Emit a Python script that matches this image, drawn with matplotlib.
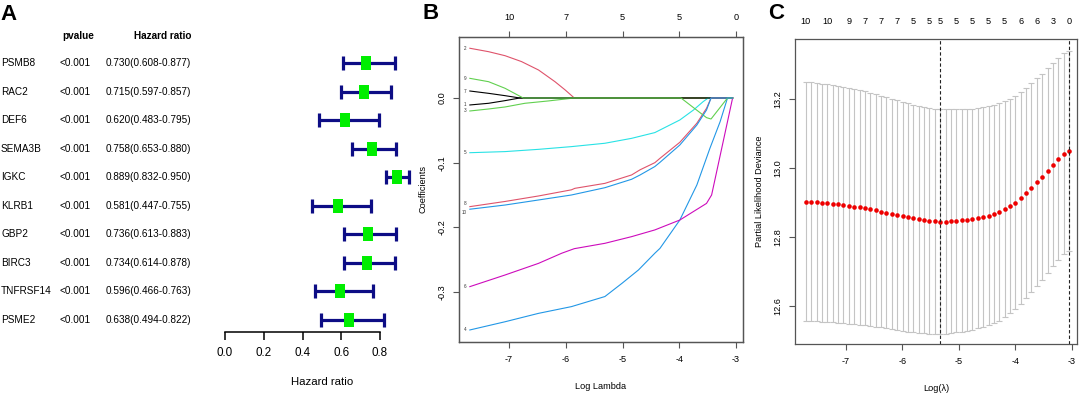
import numpy as np
import matplotlib
matplotlib.use("Agg")
import matplotlib.pyplot as plt

plt.rcParams['font.family'] = ['Liberation Sans', 'DejaVu Sans']

# ---- panel A: univariate cox forest data
genes = ["PSMB8", "RAC2", "DEF6", "SEMA3B", "IGKC", "KLRB1", "GBP2", "BIRC3", "TNFRSF14", "PSME2"]
pvals = ["<0.001"] * 10
hr = [0.730, 0.715, 0.620, 0.758, 0.889, 0.581, 0.736, 0.734, 0.596, 0.638]
hr_low = [0.608, 0.597, 0.483, 0.653, 0.832, 0.447, 0.613, 0.614, 0.466, 0.494]
hr_high = [0.877, 0.857, 0.795, 0.880, 0.950, 0.755, 0.883, 0.878, 0.763, 0.822]
hr_ticks = [0.0, 0.2, 0.4, 0.6, 0.8]

# ---- panel B: lasso coefficient paths (log lambda, coef)
path_lam = {
    1: [-7.69, -7.36, -7.07, -6.81, -3.06],
    2: [-7.69, -7.36, -7.07, -6.78, -6.48, -6.19, -6.01, -5.85, -3.06],
    3: [-7.69, -7.36, -7.07, -6.72, -6.31, -5.85, -3.06],
    4: [-7.69, -7.07, -6.48, -5.90, -5.31, -5.01, -4.72, -4.43, -4.34, -3.99, -3.69, -3.46, -3.28, -3.15, -3.06],
    5: [-7.69, -7.07, -6.48, -5.90, -5.31, -4.84, -4.43, -4.34, -3.99, -3.75, -3.58, -3.49, -3.06],
    6: [-7.69, -7.07, -6.48, -6.07, -5.85, -5.31, -4.84, -4.43, -3.99, -3.52, -3.43, -3.06],
    7: [-7.69, -7.36, -7.07, -6.81, -3.06],
    8: [-7.69, -7.07, -6.48, -5.90, -5.84, -5.31, -4.84, -4.69, -4.43, -4.34, -3.99, -3.69, -3.52, -3.44, -3.06],
    9: [-7.69, -7.36, -7.07, -6.75, -3.97, -3.52, -3.44, -3.15, -3.06],
    10: [-7.69, -7.07, -6.48, -5.90, -5.31, -4.84, -4.69, -4.43, -4.34, -3.99, -3.69, -3.52, -3.44, -3.06],
}
path_coef = {
    1: [-0.0108, -0.0082, -0.0041, 0, 0],
    2: [0.0769, 0.0716, 0.0654, 0.0563, 0.0433, 0.0252, 0.0124, 0, 0],
    3: [-0.0201, -0.017, -0.0139, -0.0082, -0.0046, 0, 0],
    4: [-0.3587, -0.346, -0.333, -0.3226, -0.307, -0.2866, -0.266, -0.240, -0.2325, -0.1887, -0.1345, -0.0778, -0.0366, 0, 0],
    5: [-0.0846, -0.0829, -0.0794, -0.0752, -0.070, -0.0624, -0.0535, -0.0495, -0.034, -0.0186, -0.0057, 0, 0],
    6: [-0.2917, -0.2737, -0.2557, -0.240, -0.233, -0.2247, -0.2144, -0.204, -0.1887, -0.163, -0.150, 0],
    7: [0.0108, 0.0072, 0.0036, 0, 0],
    8: [-0.168, -0.160, -0.1515, -0.142, -0.1397, -0.132, -0.119, -0.111, -0.100, -0.0933, -0.0685, -0.039, -0.016, 0, 0],
    9: [0.0304, 0.0252, 0.015, 0, 0, -0.0304, -0.0325, 0, 0],
    10: [-0.172, -0.1655, -0.1577, -0.150, -0.1387, -0.1257, -0.119, -0.106, -0.0995, -0.0727, -0.0418, -0.0186, 0, 0],
}
r_pal = ['#000000', '#DF536B', '#61D04F', '#2297E6', '#28E2E5', '#CD0BBC']
b_top_at = [-7, -6, -5, -4, -3]
b_top_lab = ["10", "7", "5", "5", "0"]

# ---- panel C: cross validation
cv_lam = np.linspace(-7.71, -3.05, 50)
cv_mean = [12.902, 12.902, 12.901, 12.900, 12.899, 12.897, 12.895, 12.893, 12.891, 12.888,
           12.886, 12.883, 12.880, 12.877, 12.874, 12.870, 12.867, 12.863, 12.860, 12.857,
           12.854, 12.851, 12.849, 12.847, 12.846, 12.845, 12.845, 12.846, 12.847, 12.848,
           12.850, 12.852, 12.855, 12.858, 12.862, 12.867, 12.873, 12.881, 12.890, 12.900,
           12.912, 12.927, 12.943, 12.959, 12.975, 12.992, 13.010, 13.027, 13.041, 13.049]
cv_se = [0.346, 0.346, 0.345, 0.345, 0.344, 0.344, 0.343, 0.343, 0.342, 0.341,
         0.340, 0.339, 0.338, 0.337, 0.336, 0.335, 0.334, 0.333, 0.332, 0.331,
         0.330, 0.329, 0.328, 0.327, 0.326, 0.325, 0.325, 0.324, 0.323, 0.322,
         0.321, 0.320, 0.319, 0.318, 0.317, 0.316, 0.315, 0.313, 0.311, 0.309,
         0.307, 0.305, 0.303, 0.301, 0.299, 0.297, 0.295, 0.293, 0.291, 0.290]
nz_idx = [0, 4, 8, 11, 14, 17, 20, 23, 25, 28, 31, 34, 37, 40, 43, 46, 49]
nz_lab = ["10", "10", "9", "7", "7", "7", "5", "5", "5", "5", "5", "5", "5", "6", "6", "3", "0"]
lam_min_i = 25
lam_1se_i = 49

W, H = 1080, 399
fig = plt.figure(figsize=(10.8, 3.99), dpi=100)

def fx(px):
    return px / W

def fy(py):
    return 1 - py / H

spine_col = '#555555'
tfs = 7.2   # table font
bfs = 6.6   # lasso panels font

# ================= panel A
fig.text(fx(0), fy(4), "A", fontsize=16, fontweight='bold', va='top', ha='left')
row_y = np.arange(63, 321, 28.55)
fig.text(fx(62), fy(36), "pvalue", fontsize=tfs, fontweight='bold', va='center', ha='left')
fig.text(fx(191), fy(36), "Hazard ratio", fontsize=tfs, fontweight='bold', va='center', ha='right')
for i in range(len(genes)):
    fig.text(fx(1), fy(row_y[i]), genes[i], fontsize=tfs, va='center', ha='left')
    fig.text(fx(60), fy(row_y[i]), pvals[i], fontsize=tfs, va='center', ha='left')
    fig.text(fx(191), fy(row_y[i]), "%.3f(%.3f-%.3f)" % (hr[i], hr_low[i], hr_high[i]),
             fontsize=tfs, va='center', ha='right')

axA = fig.add_axes([fx(225), fy(332), 193.75 / W, (332 - 49) / H])
n = len(genes)
ypos = np.arange(n, 0, -1)
hr_a = np.array(hr)
axA.errorbar(hr_a, ypos, xerr=[hr_a - np.array(hr_low), np.array(hr_high) - hr_a], fmt='none',
             ecolor='#0d0d85', elinewidth=2.3, capsize=5, capthick=2.3)
box = [(-0.36, -0.5), (0.36, -0.5), (0.36, 0.5), (-0.36, 0.5)]
axA.plot(hr_a, ypos, linestyle='none', marker=box, markersize=10, color='#00ee00', markeredgewidth=0)
axA.set_xlim(0, 1.0)
axA.set_ylim(1 - 12 / 28.55, n + 14 / 28.55)
for s in ['top', 'right', 'left']:
    axA.spines[s].set_visible(False)
axA.spines['bottom'].set_bounds(0, 0.8)
axA.spines['bottom'].set_linewidth(1.1)
axA.set_yticks([])
axA.set_xticks(hr_ticks)
axA.set_xticklabels(["%.1f" % t for t in hr_ticks], fontsize=8.4)
axA.tick_params(axis='x', length=6, width=1.1, pad=5)
axA.set_xlabel("Hazard ratio", fontsize=8.2, labelpad=13)
axA.patch.set_alpha(0)

# ================= panel B
fig.text(fx(423), fy(3), "B", fontsize=16, fontweight='bold', va='top', ha='left')
axB = fig.add_axes([fx(459), fy(342), 284 / W, 305 / H])
# labels 8 and 10 sit on top of each other in the original, nudge them a hair apart
lab_nudge = {8: 2.0, 10: -2.0}
for v in range(1, 11):
    axB.plot(path_lam[v], path_coef[v], color=r_pal[(v - 1) % 6], lw=0.8)
    axB.annotate(str(v), (path_lam[v][0], path_coef[v][0]), xytext=(-2.5, lab_nudge.get(v, 0)),
                 textcoords='offset points', fontsize=3.3, ha='right', va='center', color='#333333')
axB.set_xlim(-7.881, -2.877)
axB.set_ylim(-0.3773, 0.0943)
axB.set_xticks([-7, -6, -5, -4, -3])
axB.set_xticklabels(["-7", "-6", "-5", "-4", "-3"])
axB.set_yticks([0.0, -0.1, -0.2, -0.3])
axB.set_yticklabels(["0.0", "-0.1", "-0.2", "-0.3"], rotation=90, va='center')
axB.tick_params(labelsize=bfs, length=4, width=0.8, color=spine_col, pad=5)
axB.set_xlabel("Log Lambda", fontsize=bfs, labelpad=13)
axB.set_ylabel("Coefficients", fontsize=bfs, labelpad=7)
for s in axB.spines.values():
    s.set_color(spine_col)
    s.set_linewidth(0.9)
axB2 = axB.twiny()
axB2.set_xlim(axB.get_xlim())
axB2.set_xticks(b_top_at)
axB2.set_xticklabels(b_top_lab)
axB2.tick_params(labelsize=bfs, length=4, width=0.8, color=spine_col, pad=7)
for s in axB2.spines.values():
    s.set_color(spine_col)
    s.set_linewidth(0.9)

# ================= panel C
fig.text(fx(768), fy(3), "C", fontsize=16, fontweight='bold', va='top', ha='left')
axC = fig.add_axes([fx(795), fy(344), 282 / W, 305 / H])
cm = np.array(cv_mean)
cs = np.array(cv_se)
axC.errorbar(cv_lam, cm, yerr=cs, fmt='none', ecolor='#c4c4c4', elinewidth=0.8, capsize=2.0, capthick=0.8)
axC.plot(cv_lam, cm, linestyle='none', marker='o', markersize=3.3, color='#ee0000', markeredgewidth=0)
axC.axvline(cv_lam[lam_min_i], color='#222222', lw=0.8, dashes=(3, 2))
axC.axvline(cv_lam[lam_1se_i], color='#222222', lw=0.8, dashes=(3, 2))
axC.set_xlim(-7.903, -2.91)
axC.set_ylim(12.49, 13.374)
axC.set_xticks([-7, -6, -5, -4, -3])
axC.set_xticklabels(["-7", "-6", "-5", "-4", "-3"])
axC.set_yticks([12.6, 12.8, 13.0, 13.2])
axC.set_yticklabels(["12.6", "12.8", "13.0", "13.2"], rotation=90, va='center')
axC.tick_params(labelsize=bfs, length=4, width=0.8, color=spine_col, pad=5)
axC.set_xlabel("Log(\u03bb)", fontsize=bfs, labelpad=13)
axC.set_ylabel("Partial Likelihood Deviance", fontsize=bfs, labelpad=7)
for s in axC.spines.values():
    s.set_color(spine_col)
    s.set_linewidth(0.9)
axC2 = axC.twiny()
axC2.set_xlim(axC.get_xlim())
axC2.set_xticks(cv_lam[nz_idx])
axC2.set_xticklabels(nz_lab)
axC2.tick_params(labelsize=bfs, length=0, pad=9)
for s in axC2.spines.values():
    s.set_visible(False)

fig.savefig("out.png", dpi=100)
